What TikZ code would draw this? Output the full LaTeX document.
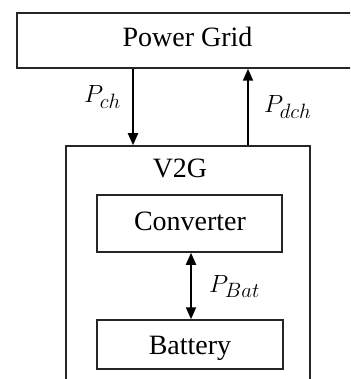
\documentclass[tikz,border=0pt]{standalone}
\usepackage{fontspec}
\setmainfont{Liberation Serif}
\DeclareMathSizes{27}{27}{20}{15}
\usetikzlibrary{arrows.meta}
\tikzset{
  box/.style={draw=black!85, line width=1.5pt, rectangle, inner sep=0pt},
  txt/.style={font=\fontsize{28}{32}\selectfont, anchor=base, inner sep=0pt},
  lab/.style={font=\fontsize{27}{30}\selectfont, anchor=base west, inner sep=0pt},
  arr/.style={line width=2pt, -{Triangle[length=12pt,width=10pt]}},
  darr/.style={line width=2pt, {Triangle[length=12pt,width=10pt]}-{Triangle[length=12pt,width=10pt]}}
}
\begin{document}
\begin{tikzpicture}[x=1pt,y=-1pt]
\useasboundingbox (0,0) rectangle (350,379);
\clip (0,0) rectangle (350,379);
\node[box, minimum width=341pt, minimum height=55pt] (grid) at (187.5,40.5) {};
\node[txt] (gridtxt) at (187.5,47) {Power Grid};
\node[box, minimum width=244pt, minimum height=250pt] (v2g) at (188,271) {};
\node[txt] (v2gtxt) at (180,178) {V2G};
\node[box, minimum width=185pt, minimum height=57pt] (conv) at (189.5,223.5) {};
\node[txt] (convtxt) at (190,230) {Converter};
\node[box, minimum width=186pt, minimum height=49pt] (bat) at (190,344.5) {};
\node[txt] (battxt) at (190,354) {Battery};
\coordinate (xch) at (133,0);
\coordinate (xdch) at (248,0);
\coordinate (xbat) at (191,0);
\draw[arr] (xch |- grid.south) -- (xch |- v2g.north);
\draw[arr] (xdch |- v2g.north) -- (xdch |- grid.south);
\draw[darr] (xbat |- conv.south) -- (xbat |- bat.north);
\node[lab] (pch) at (84,103) {$P_{ch}$};
\node[lab] (pdch) at (264,113) {$P_{dch}$};
\node[lab] (pbat) at (209,292) {$P_{Bat}$};
\end{tikzpicture}
\end{document}
